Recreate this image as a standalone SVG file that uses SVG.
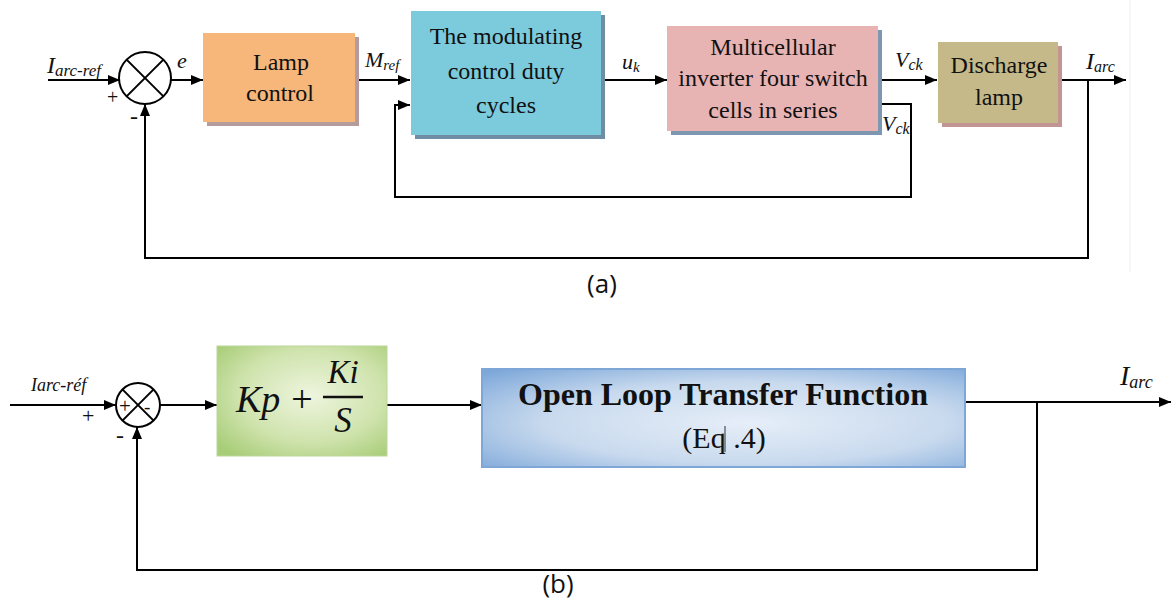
<svg xmlns="http://www.w3.org/2000/svg" width="1173" height="603" viewBox="0 0 1173 603">
<defs>
<marker id="ah" viewBox="0 0 12 10" refX="12" refY="5" markerWidth="12" markerHeight="10" markerUnits="userSpaceOnUse" orient="auto">
<path d="M0,0 L12,5 L0,10 Z" fill="#000"/>
</marker>
<radialGradient id="gGreen" cx="0.55" cy="0.45" r="0.7">
<stop offset="0" stop-color="#eef5de"/>
<stop offset="0.6" stop-color="#cfe3ad"/>
<stop offset="1" stop-color="#a8cd78"/>
</radialGradient>
<radialGradient id="gBlue" cx="0.55" cy="0.55" r="0.75">
<stop offset="0" stop-color="#e6eef8"/>
<stop offset="0.55" stop-color="#c9daee"/>
<stop offset="1" stop-color="#7ca7d9"/>
</radialGradient>
<style>
.ln{fill:none;stroke:#000;stroke-width:2}
.arr{fill:none;stroke:#000;stroke-width:2;marker-end:url(#ah)}
.bt{font-family:"Liberation Serif","Times New Roman",serif;font-size:24px;fill:#111;text-anchor:middle}
.lbl{font-family:"Liberation Serif","Times New Roman",serif;font-style:italic;fill:#111}
.sym{font-family:"Liberation Serif","Times New Roman",serif;fill:#111}
.cap{font-family:"Liberation Sans Narrow","Open Sans","Liberation Sans",sans-serif;font-size:26px;fill:#111;text-anchor:middle}
.mth{font-family:"Liberation Serif","DejaVu Serif",serif;font-style:italic;fill:#111}
</style>
</defs>
<rect width="1173" height="603" fill="#fff"/>
<line x1="1130" y1="0" x2="1130" y2="272" stroke="#f0f0f0" stroke-width="1"/>

<!-- Top diagram (a) -->
<g id="connectors-a">
<line class="arr" x1="48" y1="80" x2="120" y2="80"/>
<line class="arr" x1="171" y1="80" x2="203" y2="80"/>
<line class="arr" x1="355" y1="80" x2="410" y2="80"/>
<line class="arr" x1="600" y1="80" x2="667" y2="80"/>
<line class="arr" x1="878" y1="80" x2="937" y2="80"/>
<line class="arr" x1="1058" y1="80" x2="1126" y2="80"/>
<polyline class="arr" points="878,104 911,104 911,197 395,197 395,105 410,105"/>
<polyline class="arr" points="1088,80 1088,258 145,258 145,104"/>
</g>
<g id="sum-a">
<circle cx="145" cy="78" r="26" fill="#fff" stroke="#000" stroke-width="2"/>
<line class="ln" x1="126.6" y1="59.6" x2="163.4" y2="96.4"/>
<line class="ln" x1="163.4" y1="59.6" x2="126.6" y2="96.4"/>
<text class="sym" x="107" y="104" font-size="20">+</text>
<text class="sym" x="130" y="124" font-size="24">-</text>
</g>
<g id="labels-a">
<text class="lbl" x="47" y="73" font-size="24">I<tspan font-size="17" dy="3">arc-ref</tspan></text>
<text class="lbl" x="177" y="68" font-size="22">e</text>
<text class="lbl" x="365" y="67" font-size="22">M<tspan font-size="15" dy="3">ref</tspan></text>
<text class="lbl" x="622" y="69" font-size="22">u<tspan font-size="15" dy="3">k</tspan></text>
<text class="lbl" x="895" y="67" font-size="22">V<tspan font-size="16" dy="3">ck</tspan></text>
<text class="lbl" x="882" y="131" font-size="22">V<tspan font-size="16" dy="3">ck</tspan></text>
<text class="lbl" x="1086" y="69" font-size="24">I<tspan font-size="16" dy="3">arc</tspan></text>
</g>
<g id="lamp-control">
<rect x="207" y="37" width="152" height="89" fill="#b59c9c"/>
<rect x="203" y="33" width="152" height="89" fill="#f7b77b"/>
<text class="bt" x="281" y="70">Lamp</text>
<text class="bt" x="280" y="101">control</text>
</g>
<g id="modulating">
<rect x="415" y="15" width="190" height="124" fill="#6f8ea6"/>
<rect x="411" y="11" width="190" height="124" fill="#7ccbdd"/>
<text class="bt" x="506" y="44">The modulating</text>
<text class="bt" x="506" y="79">control duty</text>
<text class="bt" x="506" y="113">cycles</text>
</g>
<g id="multicellular">
<rect x="671" y="30" width="211" height="105" fill="#7d97b0"/>
<rect x="667" y="26" width="211" height="105" fill="#e8b3b3"/>
<text class="bt" x="773" y="55" font-size="19.5">Multicellular</text>
<text class="bt" x="773" y="86" font-size="19.5">inverter four switch</text>
<text class="bt" x="773" y="118" font-size="19.5">cells in series</text>
</g>
<g id="discharge-lamp">
<rect x="942" y="46" width="120" height="81" fill="#c29595"/>
<rect x="938" y="42" width="120" height="81" fill="#c5b98a"/>
<text class="bt" x="999" y="73" font-size="23">Discharge</text>
<text class="bt" x="999" y="105" font-size="23">lamp</text>
</g>
<text class="cap" x="602" y="293">(a)</text>

<!-- Bottom diagram (b) -->
<g id="connectors-b">
<line class="arr" x1="10" y1="405" x2="116" y2="405"/>
<line class="arr" x1="160" y1="405" x2="217" y2="405"/>
<line class="arr" x1="387" y1="405" x2="482" y2="405"/>
<line class="arr" x1="965" y1="402" x2="1171" y2="402"/>
<polyline class="arr" points="1037,402 1037,570 137,570 137,427"/>
</g>
<g id="sum-b">
<circle cx="138" cy="405" r="22" fill="#fff" stroke="#000" stroke-width="2"/>
<line class="ln" x1="122.4" y1="389.4" x2="153.6" y2="420.6"/>
<line class="ln" x1="153.6" y1="389.4" x2="122.4" y2="420.6"/>
<text class="sym" x="119" y="413" font-size="21">+</text>
<text class="sym" x="144" y="413" font-size="19">-</text>
<text class="sym" x="82" y="423" font-size="22">+</text>
<text class="sym" x="116" y="443" font-size="24">-</text>
</g>
<g id="labels-b">
<text class="lbl" x="31" y="391" font-size="18">Iarc-réf</text>
<text class="lbl" x="1120" y="385" font-size="28">I<tspan font-size="18" dy="3">arc</tspan></text>
</g>
<g id="pi-controller">
<rect x="217" y="346" width="170" height="110" fill="url(#gGreen)" stroke="#bcd69a" stroke-width="1"/>
<text class="mth" x="236" y="412" font-size="38">Kp</text>
<text class="sym" x="302" y="412" font-size="38" text-anchor="middle">+</text>
<text class="mth" x="343" y="383" font-size="33" text-anchor="middle">Ki</text>
<line x1="323" y1="397" x2="363" y2="397" stroke="#111" stroke-width="2.5"/>
<text class="mth" x="343" y="432" font-size="35" text-anchor="middle">S</text>
</g>
<g id="open-loop">
<rect x="482" y="369" width="483" height="98" fill="url(#gBlue)" stroke="#7ea6d6" stroke-width="2"/>
<text x="723" y="405" font-family="Liberation Serif,serif" font-weight="bold" font-size="32" fill="#111" text-anchor="middle">Open Loop Transfer Function</text>
<text x="724" y="448" font-family="Liberation Serif,serif" font-size="30" fill="#111" text-anchor="middle">(Eq .4)</text>
<line x1="725" y1="426" x2="725" y2="452" stroke="#333" stroke-width="1"/>
</g>
<text class="cap" x="558" y="593">(b)</text>
</svg>
